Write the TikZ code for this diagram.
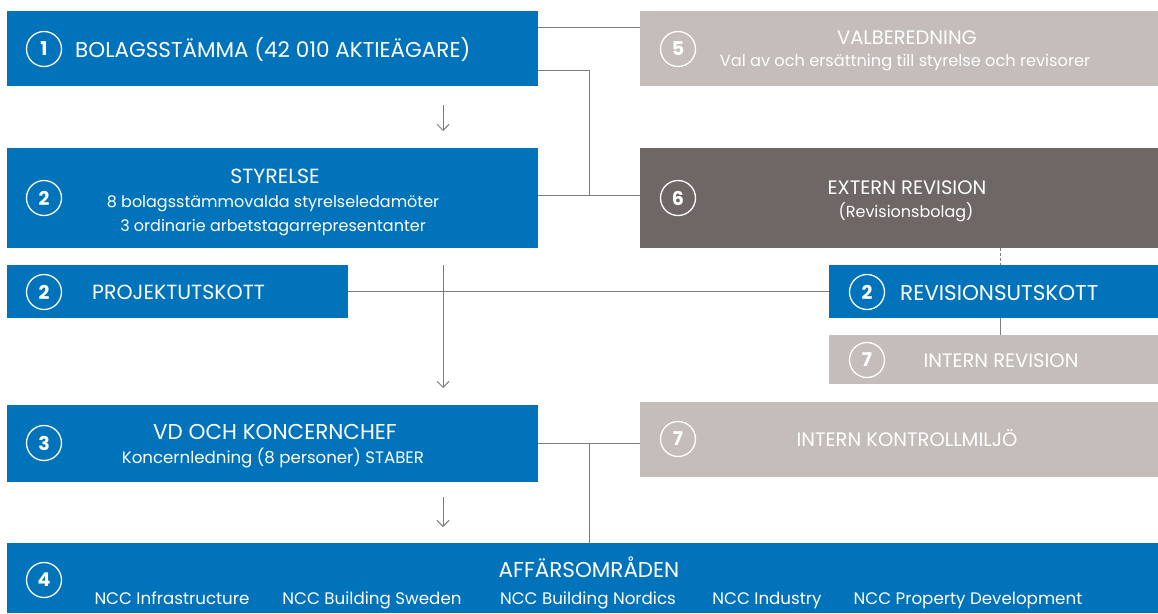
\documentclass[tikz,border=0pt]{standalone}
\usepackage{fontspec}
\setmainfont{Poppins}
\usetikzlibrary{arrows.meta,calc}
\definecolor{nccblue}{RGB}{0,115,186}
\definecolor{lgray}{RGB}{196,189,185}
\definecolor{dgray}{RGB}{110,103,102}
\definecolor{lcol}{RGB}{125,125,125}
\begin{document}
\begin{tikzpicture}[x=1pt,y=-1pt,
  boxb/.style={rectangle, fill=nccblue, inner sep=0pt, anchor=north west},
  boxl/.style={rectangle, fill=lgray, inner sep=0pt, anchor=north west},
  boxd/.style={rectangle, fill=dgray, inner sep=0pt, anchor=north west},
  num/.style={circle, draw=white, line width=1.3pt, minimum size=35pt, inner sep=0pt, text=white, font=\fontsize{19}{22}\selectfont\bfseries},
  txt/.style={text=white, inner sep=0pt, anchor=base},
  tA/.style={font=\fontsize{21.5}{24}\selectfont},
  tS/.style={font=\fontsize{19.5}{24}\selectfont},
  tB/.style={font=\fontsize{16}{24}\selectfont},
  tN/.style={font=\fontsize{16.7}{24}\selectfont},
  conn/.style={draw=lcol, line width=0.9pt},
  arr/.style={draw=lcol, line width=0.9pt, -{Straight Barb[length=6pt,width=12pt,line width=0.9pt]}}
]
\useasboundingbox (0,0) rectangle (1158,613);

% boxes
\node[boxb, minimum width=531pt, minimum height=75pt] (b1) at (7,11) {};
\node[boxl, minimum width=518pt, minimum height=75pt] (valb) at (640,11) {};
\node[boxb, minimum width=531pt, minimum height=100pt] (sty) at (7,148) {};
\node[boxd, minimum width=518pt, minimum height=100pt] (ext) at (640,148) {};
\node[boxb, minimum width=341pt, minimum height=53pt] (proj) at (7,265) {};
\node[boxb, minimum width=329pt, minimum height=53pt] (rev) at (829,265) {};
\node[boxl, minimum width=329pt, minimum height=49pt] (irev) at (829,335) {};
\node[boxb, minimum width=531pt, minimum height=77pt] (vd) at (7,405) {};
\node[boxl, minimum width=518pt, minimum height=75pt] (ikm) at (640,402) {};
\node[boxb, minimum width=1151pt, minimum height=70pt] (aff) at (7,543) {};

% number circles
\node[num] (n1) at (44,49) {1};
\node[num] (n5) at (678,49) {5};
\node[num] (n2a) at (44,198) {2};
\node[num] (n6) at (678,198) {6};
\node[num] (n2b) at (44,292) {2};
\node[num] (n2c) at (867,292) {2};
\node[num] (n7a) at (867,360) {7};
\node[num] (n3) at (44,443) {3};
\node[num] (n7b) at (678,439) {7};
\node[num] (n4) at (44,580) {4};

% texts
\node[txt, tA, anchor=base west] (t1) at (75,57) {BOLAGSSTÄMMA (42 010 AKTIEÄGARE)};
\node[txt, tS] (t5a) at (907,44) {VALBEREDNING};
\node[txt, font=\fontsize{16.2}{24}\selectfont] (t5b) at (905,66) {Val av och ersättning till styrelse och revisorer};
\node[txt, font=\fontsize{20.5}{24}\selectfont] (t2a) at (275,183) {STYRELSE};
\node[txt, tB] (t2b) at (273,207) {8 bolagsstämmovalda styrelseledamöter};
\node[txt, tB] (t2c) at (273,231) {3 ordinarie arbetstagarrepresentanter};
\node[txt, tS] (t6a) at (907,194) {EXTERN REVISION};
\node[txt, tB] (t6b) at (906,217) {(Revisionsbolag)};
\node[txt, font=\fontsize{20.5}{24}\selectfont, anchor=base west] (tp) at (92,299) {PROJEKTUTSKOTT};
\node[txt, tA, anchor=base west] (tr) at (900,300) {REVISIONSUTSKOTT};
\node[txt, tS] (tir) at (1001,367) {INTERN REVISION};
\node[txt, tA] (t3a) at (275,439) {VD OCH KONCERNCHEF};
\node[txt, font=\fontsize{16.6}{24}\selectfont] (t3b) at (273,463) {Koncernledning (8 personer) STABER};
\node[txt, tS] (tik) at (907,446) {INTERN KONTROLLMILJÖ};
\node[txt, tA] (t4) at (589,577) {AFFÄRSOMRÅDEN};
\node[txt, tN] (a1) at (172,604) {NCC Infrastructure};
\node[txt, tN] (a2) at (372,604) {NCC Building Sweden};
\node[txt, tN] (a3) at (588,604) {NCC Building Nordics};
\node[txt, tN] (a4) at (767,604) {NCC Industry};
\node[txt, tN] (a5) at (968,604) {NCC Property Development};

% helper coordinates
\coordinate (y27) at (0,27);
\coordinate (y70) at (0,70);
\coordinate (y195) at (0,195);
\coordinate (x589) at (589,0);
\coordinate (x443) at (443,0);
\coordinate (x1000) at (1000,0);

% connectors
\draw[conn] (b1.east |- y27) -- (valb.west |- y27);
\draw[conn] (b1.east |- y70) -- (x589 |- y70) -- (x589 |- y195);
\draw[conn] (sty.east |- y195) -- (ext.west |- y195);
\draw[conn, dashed, dash pattern=on 3pt off 2pt] (ext.south -| x1000) -- (rev.north -| x1000);
\draw[conn] (proj.east) -- (rev.west);
\draw[conn] (rev.south -| x1000) -- (irev.north -| x1000);
\draw[conn] (vd.east |- n3) -- (ikm.west |- n3);
\draw[conn] (x589 |- n3) -- (x589 |- aff.north);

% arrows
\draw[arr] ([yshift=-19pt]b1.south -| x443) -- ([yshift=17pt]sty.north -| x443);
\draw[arr] ([yshift=-17pt]sty.south -| x443) -- ([yshift=17pt]vd.north -| x443);
\draw[arr] ([yshift=-15pt]vd.south -| x443) -- ([yshift=16pt]aff.north -| x443);
\end{tikzpicture}
\end{document}
